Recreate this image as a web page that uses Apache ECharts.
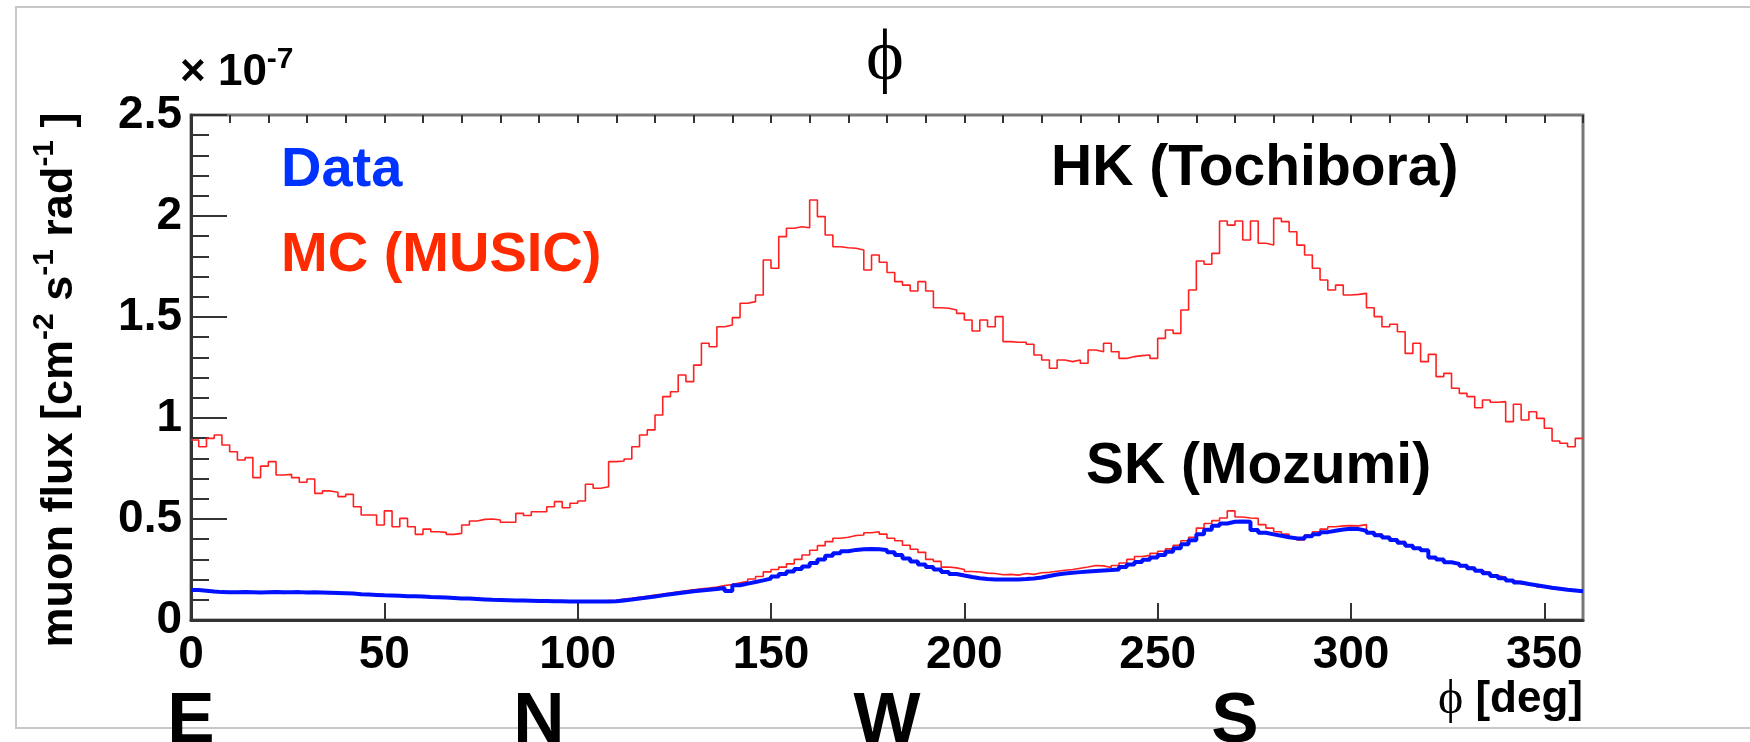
<!DOCTYPE html>
<html>
<head>
<meta charset="utf-8">
<script src="https://cdn.jsdelivr.net/npm/echarts@6/dist/echarts.min.js"></script>
<style>
  html, body { margin: 0; padding: 0; background: #fff; }
  #chart { width: 1750px; height: 742px; }
</style>
</head>
<body>
<div id="chart"></div>
<script>
// muon flux per 2 deg bin of phi, in units of 1e-7 cm^-2 s^-1 rad^-1
const binWidth = 2;

// HK (Tochibora), MUSIC simulation
const hkMC = [
  0.891, 0.858, 0.899, 0.916, 0.866, 0.833, 0.792, 0.804, 0.705, 0.762,
  0.784, 0.718, 0.721, 0.705, 0.682, 0.698, 0.627, 0.639, 0.632, 0.611,
  0.622, 0.561, 0.520, 0.520, 0.470, 0.540, 0.462, 0.503, 0.462, 0.424,
  0.450, 0.437, 0.434, 0.424, 0.429, 0.470, 0.490, 0.498, 0.500, 0.495,
  0.484, 0.484, 0.528, 0.517, 0.536, 0.536, 0.561, 0.586, 0.556, 0.578,
  0.589, 0.672, 0.652, 0.660, 0.784, 0.787, 0.797, 0.858, 0.916, 0.941,
  1.015, 1.106, 1.130, 1.213, 1.180, 1.262, 1.370, 1.353, 1.452, 1.460,
  1.497, 1.568, 1.576, 1.609, 1.782, 1.741, 1.898, 1.939, 1.947, 1.942,
  2.079, 1.997, 1.906, 1.848, 1.843, 1.840, 1.832, 1.733, 1.807, 1.771,
  1.720, 1.675, 1.658, 1.629, 1.675, 1.629, 1.546, 1.543, 1.535, 1.518,
  1.485, 1.431, 1.485, 1.452, 1.502, 1.378, 1.375, 1.375, 1.365, 1.312,
  1.287, 1.246, 1.287, 1.279, 1.287, 1.271, 1.337, 1.328, 1.370, 1.328,
  1.295, 1.304, 1.309, 1.312, 1.295, 1.394, 1.436, 1.419, 1.535, 1.634,
  1.777, 1.761, 1.815, 1.975, 1.955, 1.975, 1.881, 1.975, 1.865, 1.856,
  1.988, 1.972, 1.922, 1.856, 1.807, 1.741, 1.683, 1.634, 1.658, 1.609,
  1.612, 1.617, 1.546, 1.502, 1.452, 1.464, 1.427, 1.320, 1.370, 1.279,
  1.315, 1.205, 1.221, 1.147, 1.122, 1.106, 1.051, 1.089, 1.078, 1.081,
  0.982, 1.068, 0.990, 1.031, 0.998, 0.949, 0.886, 0.875, 0.858, 0.899
];

// SK (Mozumi), measured
const skData = [
  0.148, 0.145, 0.141, 0.138, 0.137, 0.137, 0.138, 0.137, 0.136, 0.137,
  0.138, 0.137, 0.137, 0.138, 0.136, 0.137, 0.136, 0.135, 0.134, 0.133,
  0.131, 0.128, 0.126, 0.124, 0.122, 0.121, 0.120, 0.118, 0.117, 0.116,
  0.114, 0.113, 0.111, 0.109, 0.107, 0.106, 0.104, 0.102, 0.100, 0.099,
  0.098, 0.097, 0.096, 0.095, 0.094, 0.094, 0.093, 0.093, 0.092, 0.092,
  0.091, 0.091, 0.091, 0.092, 0.093, 0.097, 0.101, 0.106, 0.111, 0.116,
  0.122, 0.127, 0.132, 0.137, 0.142, 0.146, 0.150, 0.154, 0.158, 0.143,
  0.172, 0.180, 0.188, 0.196, 0.205, 0.215, 0.228, 0.240, 0.253, 0.265,
  0.282, 0.300, 0.318, 0.330, 0.340, 0.347, 0.350, 0.351, 0.350, 0.346,
  0.335, 0.322, 0.305, 0.290, 0.275, 0.262, 0.250, 0.238, 0.228, 0.220,
  0.213, 0.207, 0.203, 0.201, 0.200, 0.200, 0.201, 0.203, 0.206, 0.210,
  0.218, 0.225, 0.230, 0.234, 0.237, 0.240, 0.243, 0.245, 0.247, 0.250,
  0.262, 0.275, 0.287, 0.298, 0.310, 0.322, 0.338, 0.355, 0.375, 0.395,
  0.425, 0.447, 0.466, 0.478, 0.486, 0.488, 0.487, 0.446, 0.432, 0.424,
  0.417, 0.410, 0.404, 0.404, 0.414, 0.425, 0.435, 0.442, 0.448, 0.452,
  0.450, 0.442, 0.432, 0.420, 0.408, 0.396, 0.383, 0.368, 0.355, 0.345,
  0.310, 0.300, 0.286, 0.278, 0.268, 0.256, 0.244, 0.232, 0.218, 0.207,
  0.196, 0.186, 0.178, 0.172, 0.166, 0.160, 0.155, 0.150, 0.146, 0.142
];

// SK (Mozumi), MUSIC simulation
const skMC = [
  0.150, 0.142, 0.140, 0.139, 0.133, 0.135, 0.140, 0.136, 0.134, 0.139,
  0.137, 0.131, 0.136, 0.140, 0.134, 0.138, 0.133, 0.131, 0.136, 0.130,
  0.129, 0.131, 0.124, 0.127, 0.118, 0.122, 0.119, 0.113, 0.119, 0.111,
  0.115, 0.110, 0.113, 0.106, 0.108, 0.103, 0.107, 0.101, 0.102, 0.097,
  0.099, 0.094, 0.097, 0.093, 0.095, 0.091, 0.095, 0.092, 0.090, 0.094,
  0.092, 0.089, 0.093, 0.096, 0.098, 0.104, 0.107, 0.113, 0.117, 0.124,
  0.128, 0.133, 0.140, 0.144, 0.150, 0.155, 0.158, 0.163, 0.170, 0.176,
  0.184, 0.192, 0.203, 0.215, 0.238, 0.250, 0.262, 0.278, 0.300, 0.322,
  0.345, 0.368, 0.388, 0.405, 0.410, 0.418, 0.421, 0.432, 0.437, 0.425,
  0.405, 0.392, 0.370, 0.350, 0.335, 0.300, 0.290, 0.262, 0.258, 0.250,
  0.240, 0.238, 0.232, 0.230, 0.224, 0.226, 0.222, 0.230, 0.226, 0.234,
  0.236, 0.241, 0.246, 0.250, 0.256, 0.262, 0.270, 0.268, 0.260, 0.270,
  0.282, 0.300, 0.314, 0.320, 0.330, 0.340, 0.352, 0.370, 0.392, 0.410,
  0.455, 0.478, 0.492, 0.505, 0.540, 0.510, 0.505, 0.503, 0.472, 0.455,
  0.437, 0.425, 0.410, 0.396, 0.420, 0.437, 0.450, 0.462, 0.466, 0.467,
  0.466, 0.472, 0.437, 0.425, 0.413, 0.400, 0.388, 0.372, 0.355, 0.340,
  0.305, 0.300, 0.283, 0.280, 0.265, 0.258, 0.242, 0.235, 0.220, 0.212,
  0.195, 0.190, 0.177, 0.175, 0.164, 0.162, 0.152, 0.150, 0.145, 0.144
];

// compass directions under the phi axis
const dirValues = [0, 90, 180, 270];
const dirNames = ['E', 'N', 'W', 'S'];

const sans = '"Liberation Sans", Arial, Helvetica, sans-serif';
const serif = '"Liberation Serif", "Times New Roman", serif';

// histogram -> points at bin left edges (+ closing right edge) for step:'end'
function toSteps(vals) {
  let pts = vals.map((v, i) => [i * binWidth, v]);
  pts.push([vals.length * binWidth, vals[vals.length - 1]]);
  return pts;
}

var myChart = echarts.init(document.getElementById('chart'));

let tickLabel = {
  fontFamily: sans,
  fontWeight: 'bold',
  fontSize: 46,
  color: '#000'
};

let option = {
  animation: false,
  backgroundColor: '#fff',
  grid: {
    left: 191,
    right: 167,
    top: 115,
    bottom: 122,
    outerBoundsMode: 'none',
    containLabel: false,
    show: true,
    borderColor: '#777',
    borderWidth: 3
  },
  xAxis: [
    {
      type: 'value',
      min: 0,
      max: 360,
      interval: 50,
      axisLine: { lineStyle: { color: '#333', width: 3 } },
      axisTick: { inside: true, length: 17, lineStyle: { color: '#333', width: 2 } },
      axisLabel: Object.assign({ margin: 12, showMaxLabel: false }, tickLabel),
      splitLine: { show: false }
    },
    {
      // minor ticks every 10 deg
      type: 'value',
      min: 0,
      max: 360,
      interval: 10,
      axisLine: { show: false },
      axisTick: { inside: true, length: 8, lineStyle: { color: '#333', width: 2 } },
      axisLabel: { show: false },
      splitLine: { show: false }
    },
    {
      // E N W S
      type: 'value',
      min: 0,
      max: 360,
      interval: 90,
      position: 'bottom',
      offset: 67,
      axisLine: { show: false },
      axisTick: { show: false },
      axisLabel: {
        margin: 0,
        fontFamily: sans,
        fontWeight: 'bold',
        fontSize: 71,
        color: '#000',
        formatter: (v) => {
          let i = dirValues.indexOf(v);
          return i >= 0 ? dirNames[i] : '';
        }
      },
      splitLine: { show: false }
    }
  ],
  yAxis: [
    {
      type: 'value',
      min: 0,
      max: 2.5,
      interval: 0.5,
      axisLine: { show: true, lineStyle: { color: '#333', width: 3 } },
      axisTick: { show: true, inside: true, length: 36, lineStyle: { color: '#333', width: 2 } },
      minorTick: { show: true, splitNumber: 5, length: 18, lineStyle: { color: '#333', width: 2 } },
      axisLabel: Object.assign({ margin: 9 }, tickLabel),
      splitLine: { show: false }
    }
  ],
  graphic: [
    {
      // outer pad frame
      type: 'rect',
      silent: true,
      z: -1,
      shape: { x: 16, y: 7, width: 1800, height: 721 },
      style: { fill: 'none', stroke: '#c8c8c8', lineWidth: 2 }
    },
    {
      type: 'text',
      x: 885,
      y: 60,
      style: {
        text: '\u03d5',
        font: 'normal 72px ' + serif,
        fill: '#000',
        align: 'center',
        verticalAlign: 'middle'
      }
    },
    {
      type: 'text',
      x: 180,
      y: 70,
      style: {
        text: '{a|\u00d7 10}{s|-7}',
        fill: '#000',
        align: 'left',
        verticalAlign: 'middle',
        rich: {
          a: { fontFamily: sans, fontWeight: 'bold', fontSize: 44, lineHeight: 50, verticalAlign: 'bottom' },
          s: { fontFamily: sans, fontWeight: 'bold', fontSize: 30, lineHeight: 50, verticalAlign: 'top' }
        }
      }
    },
    {
      type: 'text',
      x: 56,
      y: 380,
      rotation: Math.PI / 2,
      style: {
        text: '{a|muon flux [cm}{s|-2}{a| s}{s|-1}{a| rad}{s|-1}{a| ]}',
        fill: '#000',
        align: 'center',
        verticalAlign: 'middle',
        rich: {
          a: { fontFamily: sans, fontWeight: 'bold', fontSize: 45, lineHeight: 52, verticalAlign: 'bottom' },
          s: { fontFamily: sans, fontWeight: 'bold', fontSize: 30, lineHeight: 52, verticalAlign: 'top' }
        }
      }
    },
    {
      type: 'text',
      x: 281,
      y: 171,
      style: { text: 'Data', font: 'bold 56px ' + sans, fill: '#0033ff', verticalAlign: 'middle' }
    },
    {
      type: 'text',
      x: 281,
      y: 256,
      style: { text: 'MC (MUSIC)', font: 'bold 56px ' + sans, fill: '#ff2a00', verticalAlign: 'middle' }
    },
    {
      type: 'text',
      x: 1051,
      y: 169,
      style: { text: 'HK (Tochibora)', font: 'bold 57px ' + sans, fill: '#000', verticalAlign: 'middle' }
    },
    {
      type: 'text',
      x: 1086,
      y: 467,
      style: { text: 'SK (Mozumi)', font: 'bold 57px ' + sans, fill: '#000', verticalAlign: 'middle' }
    },
    {
      type: 'text',
      x: 1583,
      y: 700,
      style: {
        text: '{p|\u03d5}{b| [deg]}',
        fill: '#000',
        align: 'right',
        verticalAlign: 'middle',
        rich: {
          p: { fontFamily: serif, fontSize: 48 },
          b: { fontFamily: sans, fontWeight: 'bold', fontSize: 44 }
        }
      }
    }
  ],
  series: [
    {
      name: 'HK MC',
      type: 'line',
      step: 'end',
      showSymbol: false,
      data: toSteps(hkMC),
      lineStyle: { color: '#ff2020', width: 1.6 },
      z: 2
    },
    {
      name: 'SK MC',
      type: 'line',
      step: 'end',
      showSymbol: false,
      data: toSteps(skMC),
      lineStyle: { color: '#ff2020', width: 1.6 },
      z: 2
    },
    {
      name: 'SK Data',
      type: 'line',
      step: 'end',
      showSymbol: false,
      data: toSteps(skData),
      lineStyle: { color: '#0011ff', width: 4 },
      z: 3
    }
  ]
};

myChart.setOption(option);
</script>
</body>
</html>
